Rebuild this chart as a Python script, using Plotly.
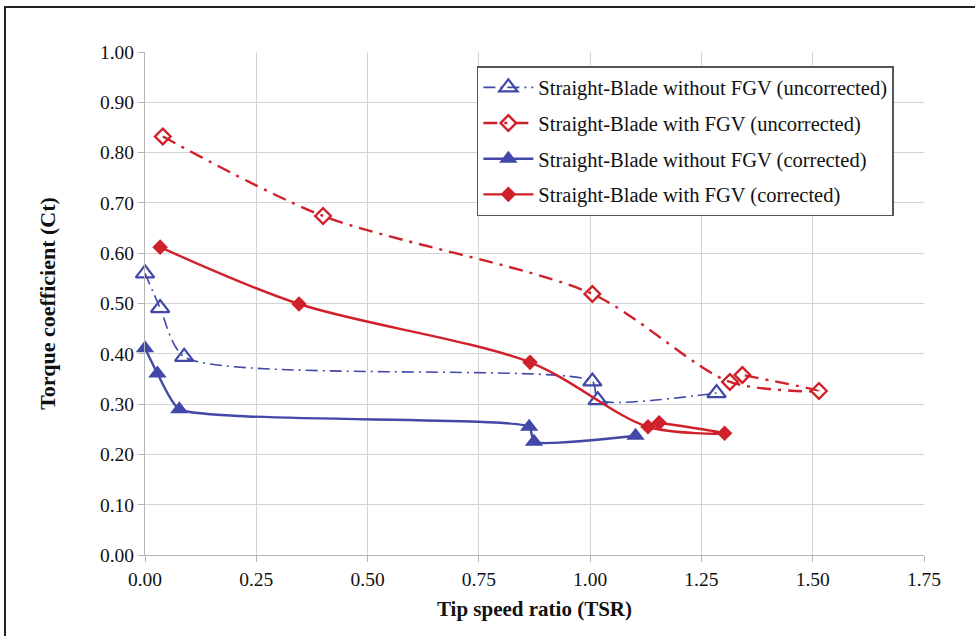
import plotly.graph_objects as go

# ---- data ----
tsr_nofgv_unc = [0.000, 0.034, 0.088, 1.005, 1.017, 1.284]
ct_nofgv_unc = [0.560, 0.491, 0.394, 0.345, 0.308, 0.322]

tsr_fgv_unc = [0.040, 0.400, 1.005, 1.314, 1.514, 1.342]
ct_fgv_unc = [0.832, 0.674, 0.519, 0.344, 0.326, 0.358]

tsr_nofgv_cor = [0.000, 0.028, 0.077, 0.863, 0.874, 1.102]
ct_nofgv_cor = [0.411, 0.361, 0.290, 0.255, 0.225, 0.237]

tsr_fgv_cor = [0.034, 0.346, 0.865, 1.130, 1.302, 1.155]
ct_fgv_cor = [0.612, 0.499, 0.383, 0.255, 0.242, 0.263]

names = [
    "Straight-Blade without FGV (uncorrected)",
    "Straight-Blade with FGV (uncorrected)",
    "Straight-Blade without FGV (corrected)",
    "Straight-Blade with FGV (corrected)",
]

x_ticks = [0.0, 0.25, 0.5, 0.75, 1.0, 1.25, 1.5, 1.75]
y_ticks = [0.0, 0.1, 0.2, 0.3, 0.4, 0.5, 0.6, 0.7, 0.8, 0.9, 1.0]

BLUE = "#4148A8"
RED = "#D0202A"
SERIF = "Liberation Serif"

fig = go.Figure()

fig.add_trace(go.Scatter(
    x=tsr_nofgv_unc, y=ct_nofgv_unc, name=names[0], legendgroup="a",
    mode="lines+markers", cliponaxis=False,
    line=dict(color=BLUE, width=1.6, dash="12px,5px,2px,5px", shape="spline", smoothing=0.7),
    marker=dict(symbol="triangle-up-open", size=16, color=BLUE, line=dict(width=2.2, color=BLUE)),
))
fig.add_trace(go.Scatter(
    x=tsr_fgv_unc, y=ct_fgv_unc, name=names[1], legendgroup="b",
    mode="lines+markers", cliponaxis=False,
    line=dict(color=RED, width=2.4, dash="14px,7px,3px,7px", shape="spline", smoothing=0.8),
    marker=dict(symbol="diamond-open", size=12, color=RED, line=dict(width=2.4, color=RED)),
))
fig.add_trace(go.Scatter(
    x=tsr_nofgv_cor, y=ct_nofgv_cor, name=names[2], legendgroup="c",
    mode="lines+markers", cliponaxis=False,
    line=dict(color=BLUE, width=2.4, shape="spline", smoothing=0.5),
    marker=dict(symbol="triangle-up", size=16, color=BLUE),
))
fig.add_trace(go.Scatter(
    x=tsr_fgv_cor, y=ct_fgv_cor, name=names[3], legendgroup="d",
    mode="lines+markers", cliponaxis=False,
    line=dict(color=RED, width=2.4, shape="spline", smoothing=0.9),
    marker=dict(symbol="diamond", size=12, color=RED),
))

axis_common = dict(
    showgrid=True, gridcolor="#D4D4D4", gridwidth=1,
    showline=True, linecolor="#B4B4B4", linewidth=1.2,
    ticks="outside", ticklen=6, tickcolor="#B4B4B4", tickwidth=1,
    tickfont=dict(family=SERIF, size=19.5, color="#111"),
    zeroline=False,
)

fig.update_xaxes(
    range=[0, 1.75], tickvals=x_ticks, ticktext=[f"{v:.2f}" for v in x_ticks],
    title=dict(text="<b>Tip speed ratio (TSR)</b>", font=dict(family=SERIF, size=21, color="#111"), standoff=12),
    **axis_common,
)
fig.update_yaxes(
    range=[0, 1.0], tickvals=y_ticks, ticktext=[f"{v:.2f}" for v in y_ticks],
    title=dict(text="<b>Torque coefficient (Ct)</b>", font=dict(family=SERIF, size=22, color="#111"), standoff=38),
    **axis_common,
)

fig.update_layout(
    width=975, height=636,
    margin=dict(l=145, r=51, t=52, b=81),
    paper_bgcolor="white", plot_bgcolor="white",
    showlegend=True,
    legend=dict(
        x=0.426, y=0.972, xanchor="left", yanchor="top",
        bgcolor="white", bordercolor="#555555", borderwidth=1.5,
        font=dict(family=SERIF, size=20.5, color="#111"),
        traceorder="grouped", tracegroupgap=6, itemwidth=50,
    ),
    shapes=[dict(
        type="rect", xref="paper", yref="paper",
        x0=(5 - 145) / 779, x1=1.3, y0=-0.4, y1=(555 - 7) / 503,
        line=dict(color="#222222", width=2), fillcolor="rgba(0,0,0,0)", layer="below",
    )],
)

fig.write_html("out.html")
